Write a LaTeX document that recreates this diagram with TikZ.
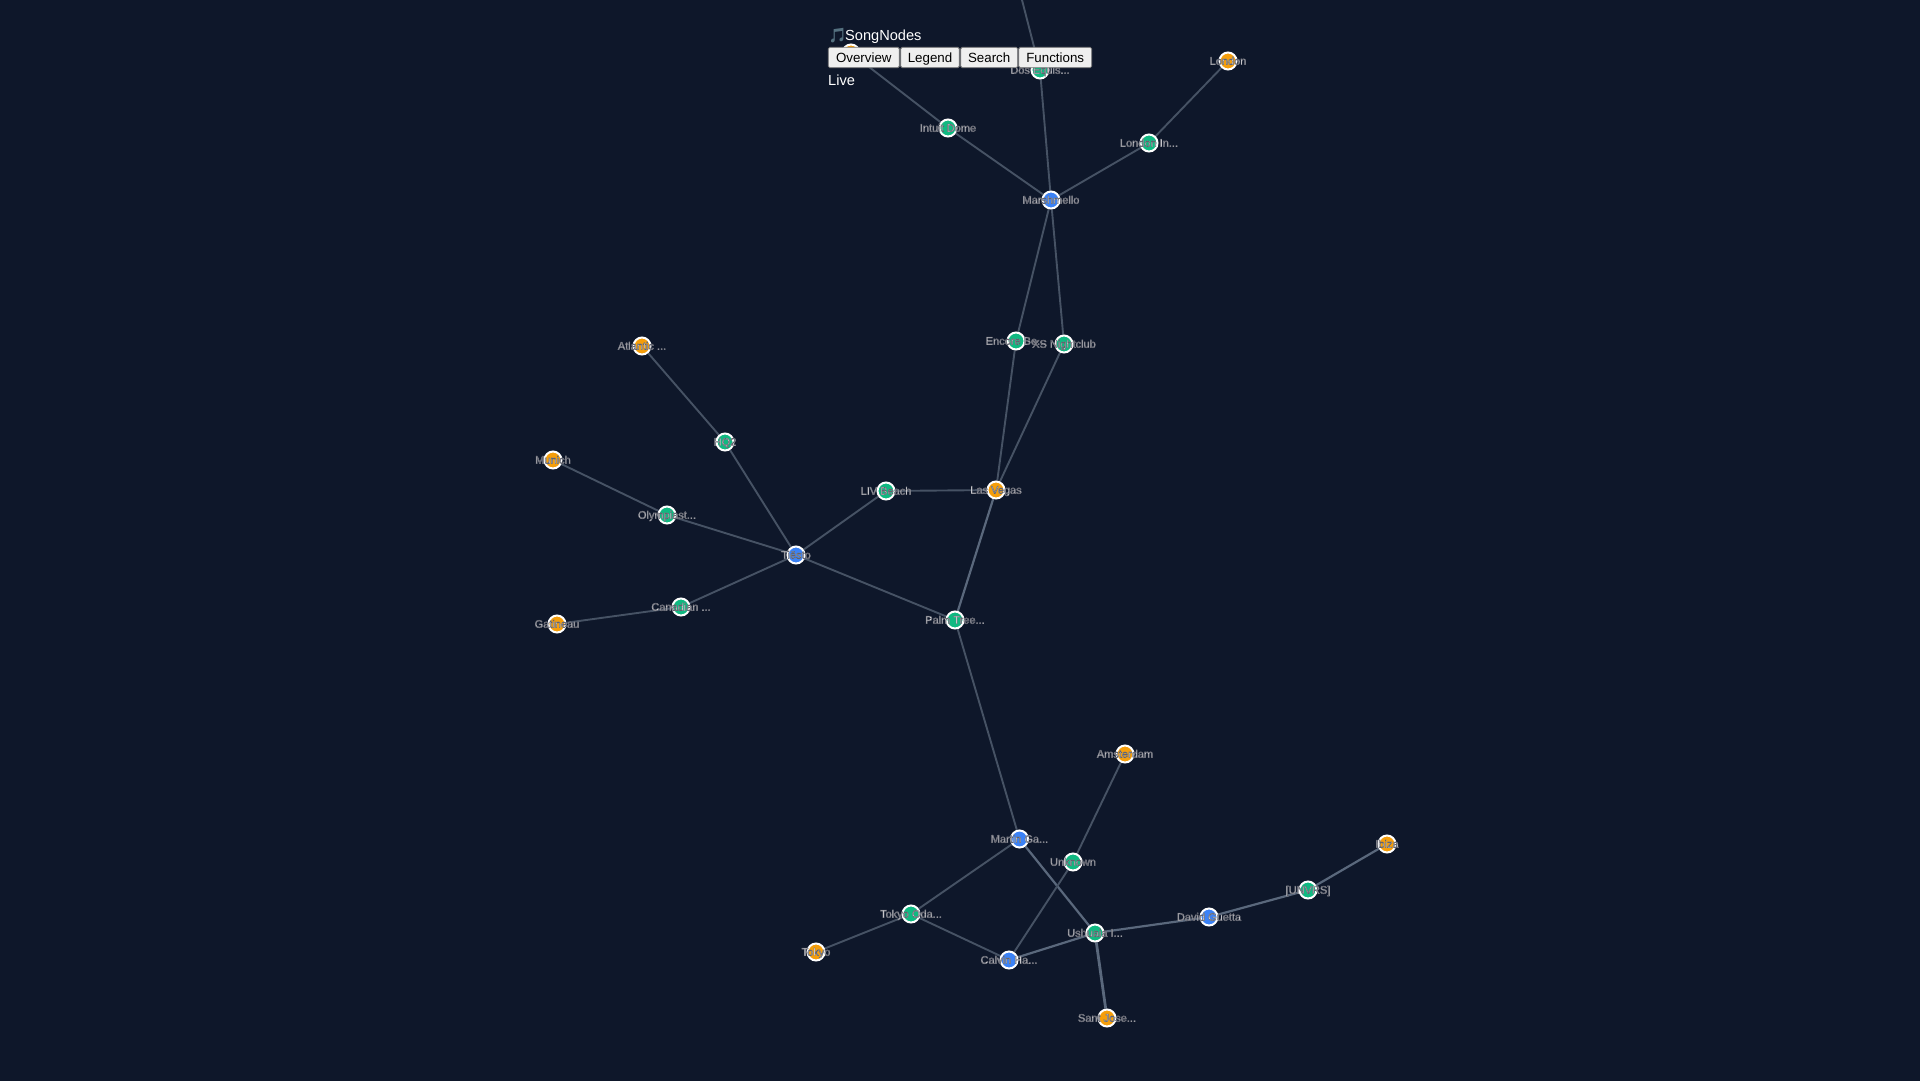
\documentclass[tikz,border=0pt]{standalone}
\usepackage{fontspec}
\setmainfont{Liberation Sans}
\newfontfamily\emojifont{Noto Emoji}
\usetikzlibrary{backgrounds}
\definecolor{bgc}{HTML}{0E172A}
\definecolor{cityc}{HTML}{F59E0B}
\definecolor{venuec}{HTML}{10B981}
\definecolor{artistc}{HTML}{3B82F6}
\definecolor{edgec}{HTML}{465264}
\definecolor{edgeb}{HTML}{5A687C}
\definecolor{labc}{HTML}{FFFFFF}
\definecolor{notec}{HTML}{54707F}
\definecolor{btnf}{HTML}{EFEFEF}
\definecolor{btnd}{HTML}{767676}
\newcommand{\lbltxt}[1]{\special{pdf:code 2 Tr 0.44 w 0.38 0.39 0.43 RG}#1\special{pdf:code 0 Tr 1 w}}
\tikzset{
  x=1pt,y=-1pt,
  dot/.style={circle,draw=white,line width=2pt,inner sep=0pt,minimum size=17pt},
  city/.style={dot,fill=cityc},
  venue/.style={dot,fill=venuec},
  artist/.style={dot,fill=artistc},
  lab/.style={inner sep=0pt,text=labc,yshift=-.9pt,text height=8pt,text depth=2.3pt,font=\fontsize{11pt}{13pt}\selectfont},
  link/.style={draw=edgec,line width=1.9pt},
  linkb/.style={draw=edgeb,line width=2.2pt},
  btn/.style={draw=btnd,fill=btnf,line width=.8pt,rounded corners=1.5pt,text=black,inner sep=0pt,text height=10.9pt,text depth=1.5pt,minimum height=20.4pt,font=\fontsize{13.33pt}{15pt}\selectfont},
  head/.style={inner sep=0pt,anchor=base west,text=white,font=\fontsize{14.6pt}{17pt}\selectfont},
}
\begin{document}
\begin{tikzpicture}
\useasboundingbox (0,0) rectangle (1920,1080);
% nodes
\node[artist] (marsh) at (1051,200) {};
\node[venue] (intuit) at (948,128) {};
\node[venue] (lonin) at (1149,143) {};
\node[city] (london) at (1228,61) {};
\node[venue] (dos) at (1040,70) {};
\node[city] (topc) at (851,53) {};
\coordinate (dostop) at (1022,0);
\node[venue] (encore) at (1016,341) {};
\node[venue] (xs) at (1064,344) {};
\node[city] (atl) at (642,346) {};
\node[venue] (hq) at (725,442) {};
\node[city] (munich) at (553,460) {};
\node[venue] (olym) at (667,515) {};
\node[artist] (tiesto) at (796,555) {};
\node[venue] (liv) at (886,491) {};
\node[city] (vegas) at (996,490) {};
\node[venue] (canad) at (681,607) {};
\node[city] (gat) at (557,624) {};
\node[venue] (palm) at (955,620) {};
\node[city] (amst) at (1125,754) {};
\node[artist] (martin) at (1019.5,839) {};
\node[venue] (unk) at (1073,862) {};
\node[city] (ibiza) at (1387,844) {};
\node[venue] (unvrs) at (1308,890) {};
\node[artist] (guetta) at (1209,917) {};
\node[venue] (ushu) at (1095,933) {};
\node[artist] (calvin) at (1009,960) {};
\node[venue] (oda) at (911,914) {};
\node[city] (tokyo) at (816,952) {};
\node[city] (sant) at (1107,1018) {};
% background and edges
\begin{scope}[on background layer]
\fill[bgc] (-5,-5) rectangle (1925,1085);
\draw[link] (marsh) -- (dos);
\draw[link] (dos) -- (dostop);
\draw[link] (marsh) -- (intuit);
\draw[link] (intuit) -- (topc);
\draw[link] (marsh) -- (lonin);
\draw[link] (lonin) -- (london);
\draw[link] (marsh) -- (encore);
\draw[link] (marsh) -- (xs);
\draw[link] (encore) -- (vegas);
\draw[link] (xs) -- (vegas);
\draw[link] (vegas) -- (liv);
\draw[linkb] (vegas) -- (palm);
\draw[link] (liv) -- (tiesto);
\draw[link] (palm) -- (tiesto);
\draw[link] (palm) -- (martin);
\draw[link] (hq) -- (tiesto);
\draw[link] (hq) -- (atl);
\draw[link] (olym) -- (tiesto);
\draw[link] (olym) -- (munich);
\draw[link] (canad) -- (tiesto);
\draw[link] (canad) -- (gat);
\draw[link] (martin) -- (oda);
\draw[linkb] (martin) -- (ushu);
\draw[link] (oda) -- (tokyo);
\draw[link] (oda) -- (calvin);
\draw[linkb] (calvin) -- (ushu);
\draw[link] (calvin) -- (unk);
\draw[link] (unk) -- (amst);
\draw[linkb] (ushu) -- (guetta);
\draw[linkb] (guetta) -- (unvrs);
\draw[linkb] (unvrs) -- (ibiza);
\draw[linkb,line width=2.8pt] (ushu) -- (sant);
\end{scope}
% labels
\node[lab] (marsh-l) at (marsh) {\lbltxt{Marshmello}};
\node[lab] (intuit-l) at (intuit) {\lbltxt{Intuit Dome}};
\node[lab] (lonin-l) at (lonin) {\lbltxt{London In...}};
\node[lab] (london-l) at (london) {\lbltxt{London}};
\node[lab] (dos-l) at (dos) {\lbltxt{Dos Equis...}};
\node[lab] (encore-l) at (encore) {\lbltxt{Encore Be...}};
\node[lab] (xs-l) at (xs) {\lbltxt{XS Nightclub}};
\node[lab] (atl-l) at (atl) {\lbltxt{Atlantic ...}};
\node[lab] (hq-l) at (hq) {\lbltxt{HQ2}};
\node[lab] (munich-l) at (munich) {\lbltxt{Munich}};
\node[lab] (olym-l) at (olym) {\lbltxt{Olympiast...}};
\node[lab] (tiesto-l) at (tiesto) {\lbltxt{Tiësto}};
\node[lab] (liv-l) at (liv) {\lbltxt{LIV Beach}};
\node[lab] (vegas-l) at (vegas) {\lbltxt{Las Vegas}};
\node[lab] (canad-l) at (canad) {\lbltxt{Canadian ...}};
\node[lab] (gat-l) at (gat) {\lbltxt{Gatineau}};
\node[lab] (palm-l) at (palm) {\lbltxt{Palm Tree...}};
\node[lab] (amst-l) at (amst) {\lbltxt{Amsterdam}};
\node[lab] (martin-l) at (martin) {\lbltxt{Martin Ga...}};
\node[lab] (unk-l) at (unk) {\lbltxt{Unknown}};
\node[lab] (ibiza-l) at (ibiza) {\lbltxt{Ibiza}};
\node[lab] (unvrs-l) at (unvrs) {\lbltxt{[UNVRS]}};
\node[lab] (guetta-l) at (guetta) {\lbltxt{David Guetta}};
\node[lab] (ushu-l) at (ushu) {\lbltxt{Ushuaia I...}};
\node[lab] (calvin-l) at (calvin) {\lbltxt{Calvin Ha...}};
\node[lab] (oda-l) at (oda) {\lbltxt{Tokyo Oda...}};
\node[lab] (tokyo-l) at (tokyo) {\lbltxt{Tokyo}};
\node[lab] (sant-l) at (sant) {\lbltxt{Sant Jose...}};
% header
\node[head,text=notec,font=\emojifont\fontsize{14.4pt}{17pt}\selectfont] (note) at (828,40) {\char"1F3B5};
\node[head] (title) at (845,40) {SongNodes};
\node[head] (live) at (828,85) {Live};
\node[btn,minimum width=71pt] (b1) at (863.8,57.5) {Overview};
\node[btn,minimum width=58.6pt] (b2) at (930,57.5) {Legend};
\node[btn,minimum width=57pt] (b3) at (989.2,57.5) {Search};
\node[btn,minimum width=73pt] (b4) at (1055.2,57.5) {Functions};
\end{tikzpicture}
\end{document}
